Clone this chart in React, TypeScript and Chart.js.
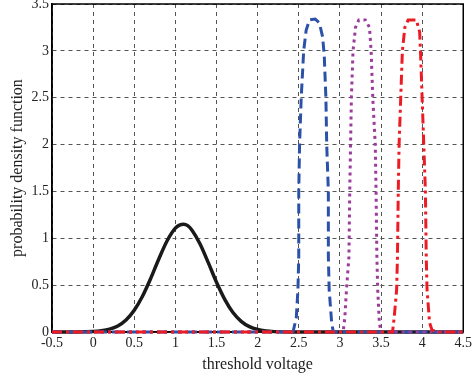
import React, { useEffect, useRef } from "react";
import { Chart, registerables } from "chart.js";

Chart.register(...registerables);

const xTicks = [-0.5, 0, 0.5, 1, 1.5, 2, 2.5, 3, 3.5, 4, 4.5];
const yTicks = [0, 0.5, 1, 1.5, 2, 2.5, 3, 3.5];

const blackX = [-0.5, -0.2, 0, 0.1, 0.2, 0.3, 0.4, 0.5, 0.6, 0.7, 0.8, 0.9, 1.0, 1.05, 1.1, 1.15, 1.2, 1.3, 1.4, 1.5, 1.6, 1.7, 1.8, 1.9, 2.0, 2.1, 2.2, 2.4, 4.5];
const blackY = [0, 0, 0.005, 0.013, 0.03, 0.065, 0.129, 0.233, 0.382, 0.572, 0.782, 0.974, 1.108, 1.14, 1.15, 1.135, 1.088, 0.939, 0.74, 0.531, 0.349, 0.208, 0.114, 0.057, 0.026, 0.011, 0.004, 0, 0];

const blueX = [-0.5, 2.43, 2.47, 2.49, 2.5, 2.5, 2.51, 2.53, 2.56, 2.59, 2.63, 2.7, 2.75, 2.79, 2.81, 2.83, 2.84, 2.86, 2.86, 2.87, 2.9, 2.92, 4.5];
const blueY = [0, 0, 0.15, 0.45, 0.8, 1.5, 2.0, 2.5, 3.0, 3.22, 3.33, 3.34, 3.3, 3.15, 2.95, 2.5, 2.0, 1.5, 0.8, 0.45, 0.1, 0, 0];

const purpleX = [-0.5, 3.04, 3.06, 3.08, 3.11, 3.12, 3.13, 3.14, 3.16, 3.19, 3.23, 3.31, 3.36, 3.38, 3.4, 3.43, 3.44, 3.45, 3.46, 3.48, 3.5, 4.5];
const purpleY = [0, 0, 0.15, 0.45, 0.8, 1.5, 2.0, 2.5, 3.0, 3.25, 3.33, 3.33, 3.25, 3.0, 2.5, 2.0, 1.5, 0.8, 0.45, 0.1, 0, 0];

const redX = [-0.5, 3.64, 3.66, 3.69, 3.7, 3.71, 3.72, 3.74, 3.76, 3.79, 3.83, 3.93, 3.97, 3.98, 4.0, 4.02, 4.04, 4.05, 4.06, 4.09, 4.12, 4.2, 4.5];
const redY = [0, 0, 0.15, 0.45, 0.8, 1.5, 2.0, 2.5, 3.0, 3.25, 3.33, 3.33, 3.2, 3.0, 2.5, 2.0, 1.5, 0.8, 0.45, 0.1, 0.02, 0, 0];

const toPts = (xs: number[], ys: number[]) => xs.map((x, i) => ({ x, y: ys[i] }));

const FONT = "'Liberation Serif', 'Times New Roman', serif";

const boxPlugin = {
  id: "box",
  beforeDatasetsDraw(chart: any) {
    const { ctx, chartArea } = chart;
    ctx.save();
    ctx.strokeStyle = "#000";
    ctx.lineWidth = 1.5;
    ctx.strokeRect(chartArea.left, chartArea.top, chartArea.right - chartArea.left, chartArea.bottom - chartArea.top);
    ctx.restore();
  },
};

export default function App() {
  const ref = useRef<HTMLCanvasElement | null>(null);
  useEffect(() => {
    if (!ref.current) return;
    const chart = new Chart(ref.current, {
      type: "scatter",
      data: {
        datasets: [
          {
            data: toPts(redX, redY),
            showLine: true,
            borderColor: "#ec1c24",
            borderWidth: 3,
            borderDash: [10, 4, 3, 4],
            pointRadius: 0,
            clip: 3,
            order: 1,
          },
          {
            data: toPts(purpleX, purpleY),
            showLine: true,
            borderColor: "#9b3b9b",
            borderWidth: 3,
            borderDash: [3, 4],
            pointRadius: 0,
            clip: 3,
            order: 2,
          },
          {
            data: toPts(blueX, blueY),
            showLine: true,
            borderColor: "#2b52a8",
            borderWidth: 3,
            borderDash: [10, 5],
            pointRadius: 0,
            clip: 3,
            order: 3,
          },
          {
            data: toPts(blackX, blackY),
            showLine: true,
            borderColor: "#1a1a1a",
            borderWidth: 3.5,
            pointRadius: 0,
            cubicInterpolationMode: "monotone",
            clip: 3,
            order: 4,
          },
        ],
      },
      options: {
        animation: false,
        responsive: false,
        maintainAspectRatio: false,
        layout: { padding: { top: 4, right: 5, left: 0, bottom: 0 } },
        plugins: { legend: { display: false }, tooltip: { enabled: false } },
        scales: {
          x: {
            type: "linear",
            min: -0.5,
            max: 4.5,
            afterBuildTicks: (s: any) => {
              s.ticks = xTicks.map((v) => ({ value: v }));
            },
            ticks: {
              font: { family: FONT, size: 14 },
              color: "#222",
              padding: 3,
              maxRotation: 0,
              autoSkip: false,
              callback: (v: any) => String(v),
            },
            grid: { color: "#555", lineWidth: 1, drawTicks: false },
            border: { display: true, color: "#000", width: 1.5, dash: [4, 4] },
            title: {
              display: true,
              text: "threshold voltage",
              font: { family: FONT, size: 16 },
              color: "#222",
              padding: { top: 2, bottom: 5 },
            },
            afterFit: (s: any) => {
              s.height = 47;
            },
          },
          y: {
            type: "linear",
            min: 0,
            max: 3.5,
            afterBuildTicks: (s: any) => {
              s.ticks = yTicks.map((v) => ({ value: v }));
            },
            ticks: {
              font: { family: FONT, size: 14 },
              color: "#222",
              padding: 3,
              autoSkip: false,
              callback: (v: any) => String(v),
            },
            grid: { color: "#555", lineWidth: 1, drawTicks: false },
            border: { display: true, color: "#000", width: 1.5, dash: [4, 4] },
            title: {
              display: true,
              text: "probability density function",
              font: { family: FONT, size: 16 },
              color: "#222",
              padding: { top: 8, bottom: 2 },
            },
            afterFit: (s: any) => {
              s.width = 52;
              s.paddingTop = 0;
              s.paddingBottom = 0;
            },
          },
        },
      },
      plugins: [boxPlugin],
    } as any);
    return () => chart.destroy();
  }, []);
  return (
    <div style={{ position: "absolute", left: 0, top: 0, width: 475, height: 379, background: "#fff" }}>
      <canvas ref={ref} width={475} height={379} style={{ width: 475, height: 379 }} />
    </div>
  );
}
